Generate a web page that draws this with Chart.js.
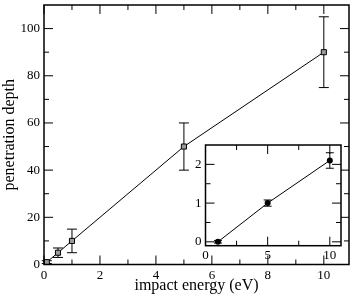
<!DOCTYPE html>
<html>
<head>
<meta charset="utf-8">
<script src="https://cdn.jsdelivr.net/npm/chart.js@4"></script>
<style>
  body { margin: 0; background: #fff; }
  #wrap { position: relative; width: 354px; height: 300px; }
  #inset-chart { position: absolute; left: 185px; top: 140px; }
</style>
</head>
<body>
<div id="wrap">
  <canvas id="main-chart" width="354" height="300"></canvas>
  <canvas id="inset-chart" width="160" height="120"></canvas>
</div>
<script>
  const energy = [0.1, 0.5, 1, 5, 10];
  const depth = [1, 5, 10, 50, 90];
  const depthErr = [0.6, 2, 5, 10, 15];

  const insetEnergy = [1, 5, 10];
  const insetDepth = [0, 1, 2.1];
  const insetErr = [0.03, 0.08, 0.2];

  const xTicks = [0, 2, 4, 6, 8, 10];
  const yTicks = [0, 20, 40, 60, 80, 100];
  const insetXTicks = [0, 5, 10];
  const insetYTicks = [0, 1, 2];

  Chart.defaults.font.family = "'Liberation Serif', 'Times New Roman', serif";
  Chart.defaults.color = "#000";
  Chart.defaults.animation = false;

  // minor ticks halfway between the majors
  function minorOf(ticks, max) {
    const step = ticks[1] - ticks[0];
    let out = [];
    ticks.forEach(t => { if (t + step / 2 < max) out.push(t + step / 2); });
    return out;
  }

  // white plot area, boxed frame with inward ticks on all four sides
  const framePlugin = {
    id: 'frame',
    beforeDraw(chart) {
      const a = chart.chartArea, ctx = chart.ctx;
      ctx.save();
      ctx.fillStyle = '#fff';
      ctx.fillRect(a.left, a.top, a.right - a.left, a.bottom - a.top);
      ctx.restore();
    },
    afterDraw(chart, args, opts) {
      const {ctx, chartArea: a, scales: {x, y}} = chart;
      ctx.save();
      ctx.strokeStyle = '#000';
      ctx.lineWidth = 1;
      ctx.beginPath();
      const xt = (v, len) => {
        const px = x.getPixelForValue(v);
        ctx.moveTo(px, a.bottom); ctx.lineTo(px, a.bottom - len);
        ctx.moveTo(px, a.top); ctx.lineTo(px, a.top + len);
      };
      const yt = (v, len) => {
        const py = y.getPixelForValue(v);
        ctx.moveTo(a.left, py); ctx.lineTo(a.left + len, py);
        ctx.moveTo(a.right, py); ctx.lineTo(a.right - len, py);
      };
      opts.xMajor.forEach(v => xt(v, 9));
      minorOf(opts.xMajor, x.max).forEach(v => xt(v, 5));
      opts.yMajor.forEach(v => yt(v, 9));
      minorOf(opts.yMajor, y.max).forEach(v => yt(v, 5));
      ctx.stroke();
      ctx.lineWidth = 1.5;
      ctx.strokeRect(a.left, a.top, a.right - a.left, a.bottom - a.top);
      ctx.restore();
    }
  };

  const errorBars = {
    id: 'errbars',
    beforeDatasetsDraw(chart, args, opts) {
      const {ctx, scales: {x, y}} = chart;
      const ds = chart.data.datasets[0];
      ctx.save();
      ctx.strokeStyle = '#000';
      ctx.lineWidth = 1;
      ctx.beginPath();
      ds.data.forEach((p, i) => {
        const e = ds.errors[i];
        const px = x.getPixelForValue(p.x);
        const top = y.getPixelForValue(p.y + e);
        const bot = y.getPixelForValue(p.y - e);
        ctx.moveTo(px, top); ctx.lineTo(px, bot);
        ctx.moveTo(px - opts.cap, top); ctx.lineTo(px + opts.cap, top);
        ctx.moveTo(px - opts.cap, bot); ctx.lineTo(px + opts.cap, bot);
      });
      ctx.stroke();
      ctx.restore();
    }
  };

  function fixedTicks(list) {
    return scale => { scale.ticks = list.map(v => ({value: v})); };
  }
  function fitX(h) {
    return s => { s.height = h; s.paddingLeft = 0; s.paddingRight = 0; };
  }
  function fitY(w) {
    return s => { s.width = w; s.paddingTop = 0; s.paddingBottom = 0; };
  }

  new Chart(document.getElementById('main-chart'), {
    type: 'scatter',
    data: {
      datasets: [{
        data: energy.map((e, i) => ({x: e, y: depth[i]})),
        errors: depthErr,
        showLine: true,
        borderColor: '#000',
        borderWidth: 1,
        pointStyle: 'rect',
        pointRadius: 3.6,
        pointBackgroundColor: '#9a9a9a',
        pointBorderColor: '#000',
        pointBorderWidth: 1
      }]
    },
    options: {
      responsive: false,
      layout: { padding: { top: 1, right: 2, left: 0, bottom: 0 } },
      plugins: {
        legend: { display: false },
        tooltip: { enabled: false },
        frame: { xMajor: xTicks, yMajor: yTicks },
        errbars: { cap: 5 }
      },
      scales: {
        x: {
          type: 'linear', min: 0, max: 10.9,
          grid: { display: false, drawTicks: false }, border: { display: false },
          afterBuildTicks: fixedTicks(xTicks),
          afterFit: fitX(35.5),
          ticks: { font: { size: 13 }, padding: 3, maxRotation: 0, autoSkip: false },
          title: { display: true, text: 'impact energy (eV)', font: { size: 16 }, padding: { top: 0, bottom: 5 } }
        },
        y: {
          type: 'linear', min: 0, max: 110,
          grid: { display: false, drawTicks: false }, border: { display: false },
          afterBuildTicks: fixedTicks(yTicks),
          afterFit: fitY(44),
          ticks: { font: { size: 13 }, padding: 4 },
          title: { display: true, text: 'penetration depth', font: { size: 16 }, padding: { top: 0, bottom: 0 } }
        }
      }
    },
    plugins: [framePlugin, errorBars]
  });

  new Chart(document.getElementById('inset-chart'), {
    type: 'scatter',
    data: {
      datasets: [{
        data: insetEnergy.map((e, i) => ({x: e, y: insetDepth[i]})),
        errors: insetErr,
        showLine: true,
        borderColor: '#000',
        borderWidth: 1,
        pointStyle: 'circle',
        pointRadius: 3,
        pointBackgroundColor: '#000',
        pointBorderColor: '#000',
        pointBorderWidth: 0
      }]
    },
    options: {
      responsive: false,
      layout: { padding: { top: 5, right: 3, left: 0, bottom: 0 } },
      plugins: {
        legend: { display: false },
        tooltip: { enabled: false },
        frame: { xMajor: insetXTicks, yMajor: insetYTicks },
        errbars: { cap: 4 }
      },
      scales: {
        x: {
          type: 'linear', min: 0, max: 10.9,
          grid: { display: false, drawTicks: false }, border: { display: false },
          afterBuildTicks: fixedTicks(insetXTicks),
          afterFit: fitX(14.3),
          ticks: { font: { size: 13 }, padding: 2, maxRotation: 0, autoSkip: false }
        },
        y: {
          type: 'linear', min: -0.1, max: 2.5,
          grid: { display: false, drawTicks: false }, border: { display: false },
          afterBuildTicks: fixedTicks(insetYTicks),
          afterFit: fitY(20.5),
          ticks: { font: { size: 13 }, padding: 4 }
        }
      }
    },
    plugins: [framePlugin, errorBars]
  });
</script>
</body>
</html>
